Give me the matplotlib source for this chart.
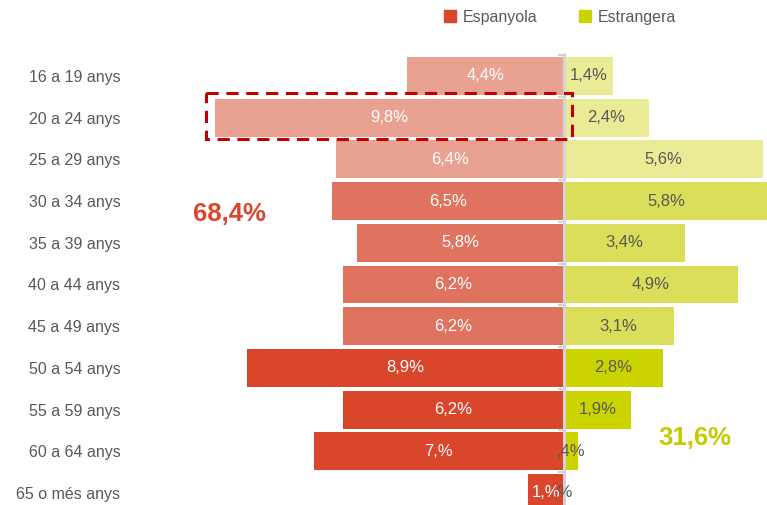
import matplotlib.pyplot as plt
from matplotlib.lines import Line2D
from matplotlib.patches import Rectangle
import numpy as np

plt.rcParams['font.family'] = ['Liberation Sans', 'DejaVu Sans']

# Data
categories = ['16 a 19 anys', '20 a 24 anys', '25 a 29 anys', '30 a 34 anys',
              '35 a 39 anys', '40 a 44 anys', '45 a 49 anys', '50 a 54 anys',
              '55 a 59 anys', '60 a 64 anys', '65 o més anys']
espanyola = [4.4, 9.8, 6.4, 6.5, 5.8, 6.2, 6.2, 8.9, 6.2, 7.0, 1.0]
estrangera = [1.4, 2.4, 5.6, 5.8, 3.4, 4.9, 3.1, 2.8, 1.9, 0.4, 0.0]
total_espanyola = 68.4
total_estrangera = 31.6
highlight_row = 1

# Colours by age band (young / middle / older)
esp_colors = ['#E9A191'] * 3 + ['#E07360'] * 4 + ['#D9462B'] * 4
est_colors = ['#EAEB96'] * 3 + ['#DADE58'] * 4 + ['#CCD400'] * 4
grey_text = '#595959'


def excel_pct(v):
    # mimics the "#,#%" number format: no leading 0, no trailing 0
    txt = f'{v:.1f}'
    whole, dec = txt.split('.')
    if whole == '0':
        whole = ''
    if dec == '0':
        dec = ''
    return f'{whole},{dec}%'


fig = plt.figure(figsize=(7.67, 5.05), dpi=100)
ax = fig.add_axes([130 / 767, 0, 1 - 130 / 767, 1])

y = np.arange(len(categories))
ax.barh(y, [-v for v in espanyola], height=0.91, color=esp_colors, zorder=2)
ax.barh(y, estrangera, height=0.91, color=est_colors, zorder=2)

# value labels
for i in range(len(categories)):
    ax.text(-espanyola[i] / 2, i, excel_pct(espanyola[i]), ha='center', va='center',
            color='white', fontsize=12, zorder=4)
    ax.text(estrangera[i] / 2, i, excel_pct(estrangera[i]), ha='center', va='center',
            color=grey_text, fontsize=12, zorder=4)

# central axis with small ticks
ax.vlines(0, -0.55, len(categories), color='#D4D4D4', lw=2.2, zorder=3)
ax.hlines(np.arange(len(categories)) - 0.5, -0.15, 0, color='#D4D4D4', lw=1.5, zorder=3)

# highlight box
hl = Rectangle((-espanyola[highlight_row] - 0.25, highlight_row - 0.6),
               espanyola[highlight_row] + 0.5, 1.12,
               fill=False, edgecolor='#C00000', lw=2.2, ls=(0, (4, 2.5)), zorder=5)
ax.add_patch(hl)

# totals
ax.text(-9.37, 3.31, f'{total_espanyola:.1f}%'.replace('.', ','), ha='center', va='center',
        color='#D9462B', fontsize=18.5, fontweight='bold')
ax.text(3.69, 8.68, f'{total_estrangera:.1f}%'.replace('.', ','), ha='center', va='center',
        color='#C4CC00', fontsize=18.5, fontweight='bold')

ax.set_xlim((130 - 563.5) / 35.6, (767 - 563.5) / 35.6)
ax.set_ylim((505 - 76) / 41.7, -76 / 41.7)
ax.set_yticks(y, categories)
ax.set_xticks([])
ax.tick_params(axis='y', length=0, pad=7, labelsize=11.5, labelcolor=grey_text)
for s in ax.spines.values():
    s.set_visible(False)

handles = [Line2D([], [], marker='s', ls='', color='#D9462B', markersize=8),
           Line2D([], [], marker='s', ls='', color='#CCD400', markersize=8)]
leg = fig.legend(handles, ['Espanyola', 'Estrangera'], loc='center', ncol=2,
                 bbox_to_anchor=(0.73, 0.966), frameon=False, fontsize=11.5,
                 handlelength=0.8, handletextpad=0.4, columnspacing=2.6)
for t in leg.get_texts():
    t.set_color(grey_text)

fig.savefig('out.png', dpi=100)
